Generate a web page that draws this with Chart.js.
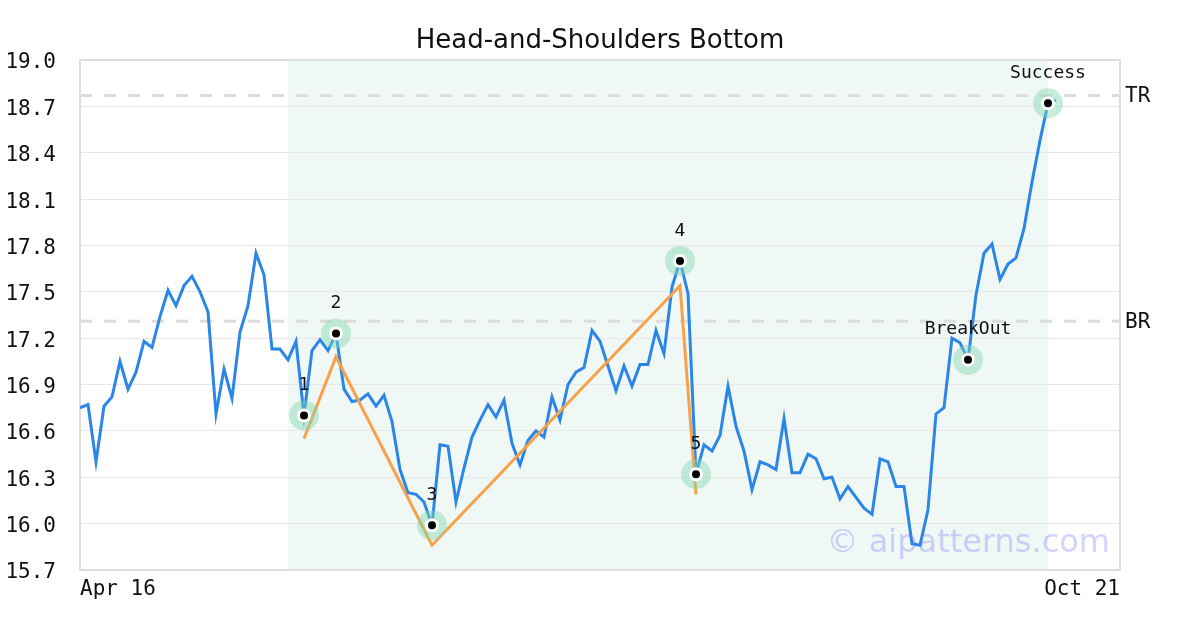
<!DOCTYPE html>
<html>
<head>
<meta charset="utf-8">
<script src="https://cdn.jsdelivr.net/npm/chart.js@4.4.1/dist/chart.umd.min.js"></script>
<style>
  html, body { margin: 0; padding: 0; background: #fff; }
  #wrap { width: 1200px; height: 630px; }
</style>
</head>
<body>
<div id="wrap"><canvas id="hsChart" width="1200" height="630"></canvas></div>
<script>
// daily closes, Apr 16 -> Oct 21 (index = trading day)
const prices = [
  16.75, 16.77, 16.40, 16.76, 16.82, 17.05, 16.87, 16.98, 17.18, 17.14,
  17.34, 17.51, 17.41, 17.54, 17.60, 17.50, 17.37, 16.71, 17.00, 16.81,
  17.24, 17.41, 17.75, 17.61, 17.13, 17.13, 17.06, 17.18, 16.70, 17.12,
  17.19, 17.12, 17.23, 16.87, 16.79, 16.80, 16.84, 16.76, 16.83, 16.66,
  16.35, 16.20, 16.19, 16.14, 15.99, 16.51, 16.50, 16.14, 16.36, 16.56,
  16.67, 16.77, 16.69, 16.80, 16.52, 16.38, 16.54, 16.60, 16.56, 16.82,
  16.67, 16.90, 16.98, 17.01, 17.25, 17.18, 17.02, 16.86, 17.02, 16.89,
  17.03, 17.03, 17.25, 17.10, 17.53, 17.70, 17.49, 16.32, 16.51, 16.47,
  16.57, 16.89, 16.63, 16.47, 16.22, 16.40, 16.38, 16.35, 16.68, 16.33,
  16.33, 16.45, 16.42, 16.29, 16.30, 16.16, 16.24, 16.17, 16.10, 16.06,
  16.42, 16.40, 16.24, 16.24, 15.87, 15.86, 16.09, 16.71, 16.75, 17.20,
  17.17, 17.06, 17.48, 17.75, 17.81, 17.58, 17.68, 17.72, 17.91, 18.21,
  18.48, 18.72, 18.74
];

// pattern pivots (indices into prices)
const pivotIdx = [28, 32, 44, 75, 77, 111, 121];
const pivotLabels = ['1', '2', '3', '4', '5', 'BreakOut', 'Success'];

// orange pattern outline
const outlineIdx = [28, 32, 44, 75, 77];
const outlineVals = [16.55, 17.08, 15.86, 17.54, 16.19];

// resistance / target levels
const levelVals = [18.77, 17.31];
const levelNames = ['TR', 'BR'];

// pattern window (shaded)
const patternRange = [26, 121];

const xTickPos = [0, 130];
const xTickLabels = ['Apr 16', 'Oct 21'];
const yTicks = [15.7, 16.0, 16.3, 16.6, 16.9, 17.2, 17.5, 17.8, 18.1, 18.4, 18.7, 19.0];

const chartTitle = 'Head-and-Shoulders Bottom';
const MONO = "'DejaVu Sans Mono', monospace";

const pivotPts = pivotIdx.map(i => ({ x: i, y: prices[i] }));

const overlayPlugin = {
  id: 'overlay',
  beforeDraw(chart) {
    const { ctx, chartArea: a, scales: { x } } = chart;
    ctx.save();
    ctx.fillStyle = '#fff';
    ctx.fillRect(0, 0, chart.width, chart.height);
    const x0 = x.getPixelForValue(patternRange[0]);
    const x1 = x.getPixelForValue(patternRange[1]);
    ctx.fillStyle = '#eff8f4';
    ctx.fillRect(x0, a.top, x1 - x0, a.bottom - a.top);
    // title, centred on the canvas
    ctx.fillStyle = '#111';
    ctx.textAlign = 'center';
    ctx.textBaseline = 'alphabetic';
    ctx.font = '26px "DejaVu Sans", sans-serif';
    ctx.fillText(chartTitle, chart.width / 2, 48);
    ctx.restore();
  },
  beforeDatasetsDraw(chart) {
    const { ctx, chartArea: a, scales: { y } } = chart;
    ctx.save();
    ctx.strokeStyle = '#dcdcdc';
    ctx.lineWidth = 3;
    ctx.setLineDash([12, 12]);
    levelVals.forEach(v => {
      const py = y.getPixelForValue(v);
      ctx.beginPath();
      ctx.moveTo(a.left, py);
      ctx.lineTo(a.right, py);
      ctx.stroke();
    });
    ctx.setLineDash([]);
    ctx.strokeStyle = '#dddddd';
    ctx.lineWidth = 2;
    ctx.strokeRect(a.left, a.top, a.right - a.left, a.bottom - a.top);
    ctx.restore();
  },
  afterDatasetsDraw(chart) {
    const { ctx, chartArea: a, scales: { x, y } } = chart;
    ctx.save();
    ctx.fillStyle = '#111';
    ctx.textAlign = 'center';
    ctx.textBaseline = 'middle';
    ctx.font = '18px ' + MONO;
    pivotPts.forEach((p, k) => {
      ctx.fillText(pivotLabels[k], x.getPixelForValue(p.x), y.getPixelForValue(p.y) - 30);
    });
    ctx.textAlign = 'left';
    ctx.font = '21px ' + MONO;
    levelVals.forEach((v, k) => {
      ctx.fillText(levelNames[k], a.right + 5, y.getPixelForValue(v) + 1);
    });
    ctx.textAlign = 'right';
    ctx.font = '32px "DejaVu Sans", sans-serif';
    ctx.fillStyle = 'rgba(110, 110, 250, 0.3)';
    ctx.fillText('\u00a9 aipatterns.com', a.right - 10, a.bottom - 26);
    ctx.restore();
  }
};

new Chart(document.getElementById('hsChart'), {
  type: 'line',
  data: {
    datasets: [
      {
        data: prices.map((v, i) => ({ x: i, y: v })),
        borderColor: '#2b86e8',
        borderWidth: 3,
        pointRadius: 0,
        tension: 0,
        order: 5
      },
      {
        data: outlineIdx.map((i, k) => ({ x: i, y: outlineVals[k] })),
        borderColor: '#f7a24a',
        borderWidth: 3,
        pointRadius: 0,
        tension: 0,
        order: 4
      },
      {
        data: pivotPts,
        showLine: false,
        pointRadius: 15,
        pointBorderWidth: 0,
        pointBackgroundColor: 'rgba(130, 215, 175, 0.45)',
        order: 3
      },
      {
        data: pivotPts,
        showLine: false,
        pointRadius: 7,
        pointBorderWidth: 0,
        pointBackgroundColor: '#ffffff',
        order: 2
      },
      {
        data: pivotPts,
        showLine: false,
        pointRadius: 4,
        pointBorderWidth: 0,
        pointBackgroundColor: '#000000',
        order: 1
      }
    ]
  },
  options: {
    responsive: false,
    animation: false,
    events: [],
    layout: { padding: { left: 0, right: 80, top: 60, bottom: 0 } },
    plugins: {
      legend: { display: false },
      tooltip: { enabled: false },
      title: { display: false }
    },
    scales: {
      x: {
        type: 'linear',
        min: xTickPos[0],
        max: xTickPos[xTickPos.length - 1],
        grid: { display: false, drawTicks: false },
        border: { display: false },
        afterBuildTicks: axis => { axis.ticks = xTickPos.map(v => ({ value: v })); },
        afterFit: axis => { axis.height = 60; },
        ticks: {
          align: 'inner',
          padding: 7,
          color: '#111',
          font: { family: MONO, size: 21 },
          maxRotation: 0,
          callback: (v) => xTickLabels[xTickPos.indexOf(v)]
        }
      },
      y: {
        min: yTicks[0],
        max: yTicks[yTicks.length - 1],
        grid: { color: '#e8e8e8', lineWidth: 1, drawTicks: false },
        border: { display: false },
        afterBuildTicks: axis => { axis.ticks = yTicks.map(v => ({ value: v })); },
        afterFit: axis => { axis.width = 80; },
        ticks: {
          padding: 24,
          labelOffset: 3,
          color: '#111',
          font: { family: MONO, size: 21 },
          callback: v => Number(v).toFixed(1)
        }
      }
    }
  },
  plugins: [overlayPlugin]
});
</script>
</body>
</html>
